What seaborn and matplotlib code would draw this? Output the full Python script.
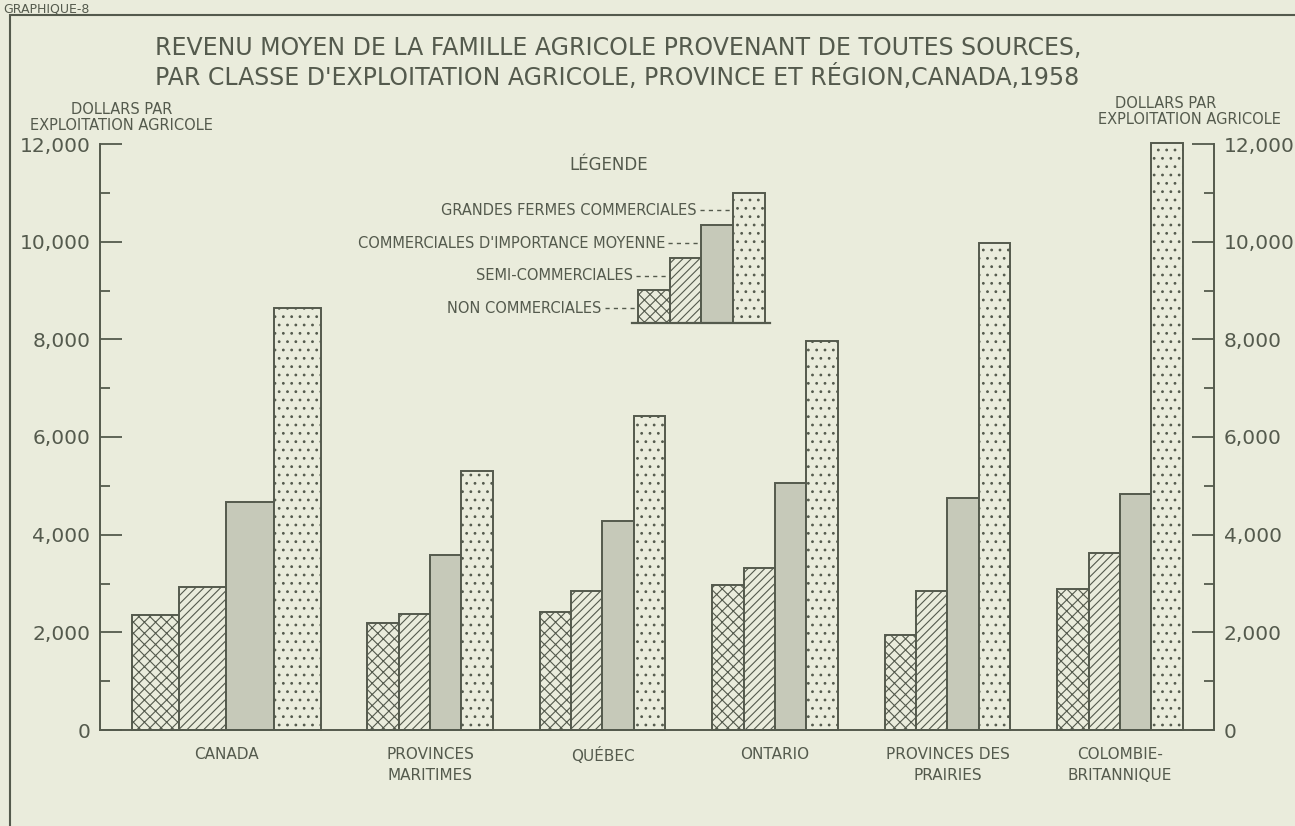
import pandas as pd
import matplotlib.pyplot as plt
import seaborn as sns
from matplotlib.patches import Rectangle
from matplotlib.ticker import MultipleLocator, StrMethodFormatter

# ------------------------------------------------------------------
# data (dollars per farm, 1958)
# ------------------------------------------------------------------
regions = ["CANADA", "PROVINCES\nMARITIMES", "QUÉBEC", "ONTARIO",
           "PROVINCES DES\nPRAIRIES", "COLOMBIE-\nBRITANNIQUE"]
classes = ["NON COMMERCIALES", "SEMI-COMMERCIALES",
           "COMMERCIALES D'IMPORTANCE MOYENNE", "GRANDES FERMES COMMERCIALES"]
non_commerciales = [2360, 2200, 2420, 2970, 1950, 2890]
semi_commerciales = [2930, 2370, 2850, 3310, 2850, 3630]
importance_moyenne = [4660, 3580, 4290, 5060, 4760, 4840]
grandes_fermes = [8640, 5300, 6440, 7970, 9970, 12020]
legend_steps = [1, 2, 3, 4]

# colours of the old printed sheet
paper = "#eaecdc"
ink = "#545a4d"
gray_fill = "#c6c9b9"

sns.set_style("ticks", rc={"axes.facecolor": paper, "figure.facecolor": paper,
                           "axes.edgecolor": ink, "text.color": ink,
                           "xtick.color": ink, "ytick.color": ink})
plt.rcParams["font.family"] = ["DejaVu Sans"]
plt.rcParams["hatch.color"] = ink
plt.rcParams["hatch.linewidth"] = 0.8

df = pd.DataFrame({"region": regions,
                   classes[0]: non_commerciales,
                   classes[1]: semi_commerciales,
                   classes[2]: importance_moyenne,
                   classes[3]: grandes_fermes})
long = df.melt(id_vars="region", var_name="classe", value_name="revenu")

# Canada stands a little apart from the provinces
group_pos = [0.0] + [1.18 + i for i in range(5)]
long["x"] = long["region"].map(dict(zip(regions, group_pos)))

palette = dict(zip(classes, [paper, paper, gray_fill, paper]))
hatches = ["xxx", "////", "", ".."]

W, H = 1295, 826
fig = plt.figure(figsize=(W / 100, H / 100), dpi=100)
ax = fig.add_axes([100 / W, 1 - 730 / H, 1114 / W, 586 / H])

is_canada = long["region"] == regions[0]
bar_kw = dict(x="x", y="revenu", hue="classe", hue_order=classes, palette=palette,
              native_scale=True, errorbar=None, saturation=1, edgecolor=ink,
              linewidth=1.4, legend=False, ax=ax)
sns.barplot(data=long[is_canada], width=1.1, **bar_kw)
sns.barplot(data=long[~is_canada], width=0.725, **bar_kw)
for i, cont in enumerate(ax.containers):
    for bar in cont:
        bar.set_hatch(hatches[i % 4])
        bar.set_clip_on(False)

ax.set_xlim(-0.733, 5.725)
ax.set_ylim(0, 12000)
ax.set_xticks(group_pos, regions, fontsize=11, linespacing=1.5)
ax.tick_params(axis="x", length=0, pad=12)
ax.yaxis.set_major_locator(MultipleLocator(2000))
ax.yaxis.set_minor_locator(MultipleLocator(1000))
ax.yaxis.set_major_formatter(StrMethodFormatter("{x:,.0f}"))
ax.tick_params(axis="y", which="both", direction="in", left=True, right=True,
               labelleft=True, labelright=True, labelsize=14.5, width=1.3, pad=7)
ax.tick_params(axis="y", which="major", length=16)
ax.tick_params(axis="y", which="minor", length=7)
ax.set_xlabel("")
ax.set_ylabel("")
ax.spines["top"].set_visible(False)
for s in ["left", "right", "bottom"]:
    ax.spines[s].set_linewidth(1.4)

# ------------------------------------------------------------------
# the little drawn legend
# ------------------------------------------------------------------
lax = fig.add_axes([632 / W, 1 - 323 / H, 138 / W, 137 / H])
leg = pd.DataFrame({"classe": classes, "pas": legend_steps})
sns.barplot(data=leg, x="classe", y="pas", hue="classe", hue_order=classes,
            palette=palette, width=1.0, saturation=1, edgecolor=ink,
            linewidth=1.4, legend=False, ax=lax)
for i, cont in enumerate(lax.containers):
    for bar in cont:
        bar.set_hatch(hatches[i])
lax.set_xlim(-0.69, 3.66)
lax.set_ylim(0, 4.2)
lax.patch.set_alpha(0)
lax.set_xticks([])
lax.set_yticks([])
lax.set_xlabel("")
lax.set_ylabel("")
for s in ["left", "right", "top"]:
    lax.spines[s].set_visible(False)
lax.spines["bottom"].set_linewidth(1.6)
for i, name in enumerate(classes):
    y = i + 0.45
    lax.plot([i - 1.55, i - 0.5], [y, y], color=ink, lw=1, ls=(0, (3, 3)), clip_on=False)
    lax.text(i - 1.65, y, name, ha="right", va="center", fontsize=10.5, clip_on=False)
fig.text(609 / W, 1 - 165 / H, "LÉGENDE", ha="center", va="center", fontsize=12)

# ------------------------------------------------------------------
# titles, units and the sheet frame
# ------------------------------------------------------------------
fig.text(155 / W, 1 - 48 / H,
         "REVENU MOYEN DE LA FAMILLE AGRICOLE PROVENANT DE TOUTES SOURCES,",
         ha="left", va="center", fontsize=17)
fig.text(155 / W, 1 - 77 / H,
         "PAR CLASSE D'EXPLOITATION AGRICOLE, PROVINCE ET RÉGION,CANADA,1958",
         ha="left", va="center", fontsize=17)
fig.text(122 / W, 1 - 110 / H, "DOLLARS PAR", ha="center", va="center", fontsize=10.5)
fig.text(121 / W, 1 - 125 / H, "EXPLOITATION AGRICOLE", ha="center", va="center", fontsize=10.5)
fig.text(1166 / W, 1 - 104 / H, "DOLLARS PAR", ha="center", va="center", fontsize=10.5)
fig.text(1189 / W, 1 - 120 / H, "EXPLOITATION AGRICOLE", ha="center", va="center", fontsize=10.5)
fig.text(3 / W, 1 - 12 / H, "GRAPHIQUE-8", ha="left", va="baseline", fontsize=9)

fig.patches.append(Rectangle((10 / W, -0.1), 1.2, 1.1 - 15 / H, transform=fig.transFigure,
                             fill=False, edgecolor=ink, linewidth=1.5))

fig.savefig("out.png", dpi=100, facecolor=paper)
